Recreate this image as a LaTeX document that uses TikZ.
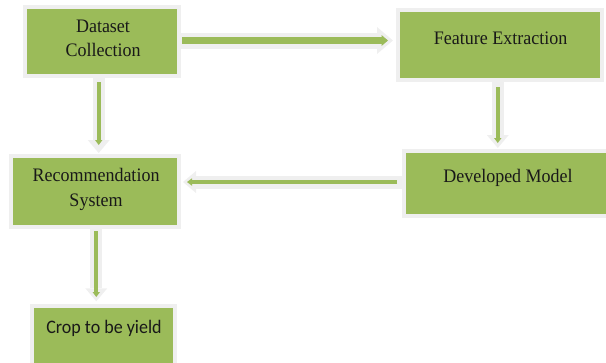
\documentclass[tikz,border=0pt]{standalone}
\usepackage{fontspec}
\setmainfont{Liberation Serif}
\newfontfamily\calib{Carlito}
\usetikzlibrary{arrows.meta}
\definecolor{leaf}{HTML}{9BBB59}
\definecolor{halo}{HTML}{EFEFEF}
\tikzset{
  box/.style={draw=halo, fill=leaf, line width=4pt, inner sep=0pt, outer sep=0pt},
  lbl/.style={anchor=base, align=center, font=\fontsize{18}{23.3}\selectfont, inner sep=0pt, text=black!90, yscale=1.06},
  hhalo/.style={draw=halo, line width=16pt, -{Triangle[length=16pt, width=27pt, line width=0pt]}},
  hleaf/.style={draw=leaf, line width=7pt, -{Triangle[length=6.5pt, width=11pt, line width=0pt]}},
  shalo/.style={draw=halo, line width=12pt, -{Triangle[length=13pt, width=22pt, line width=0pt]}},
  sleaf/.style={draw=leaf, line width=4.3pt, -{Triangle[length=5pt, width=7.5pt, line width=0pt]}},
}
\begin{document}
\begin{tikzpicture}[x=1pt,y=-1pt]
\useasboundingbox (0,0) rectangle (606,362);
% boxes
\node[box, minimum width=154pt, minimum height=69pt] (dc) at (102,41.5) {};
\node[box, minimum width=204pt, minimum height=70pt] (fe) at (500,45) {};
\node[box, minimum width=168pt, minimum height=71pt] (rs) at (95,191.5) {};
\node[box, minimum width=204pt, minimum height=65pt] (dm) at (506,183.5) {};
\node[box, minimum width=143pt, minimum height=64pt] (cr) at (103.5,338) {};
% labels (anchor base = baseline of the last line)
\node[lbl] (dct) at (103,56.7) {Dataset\\Collection};
\node[lbl] (fet) at (500.7,44) {Feature Extraction};
\node[lbl] (dmt) at (508,182.3) {Developed Model};
\node[lbl] (rst) at (96,206) {Recommendation\\System};
\node[lbl, font=\calib\fontsize{18}{22}\selectfont] (crt) at (104,333.7) {Crop to be yield};
% arrow: Dataset Collection -> Feature Extraction
\draw[hhalo, shorten <=0pt, shorten >=5pt] (dc.east |- 0,40.5) -- (fe.west |- 0,40.5);
\draw[hleaf, shorten <=3pt, shorten >=10pt] (dc.east |- 0,40.5) -- (fe.west |- 0,40.5);
% arrow: Developed Model -> Recommendation System
\draw[shalo, line width=13pt, shorten <=0pt, shorten >=4pt] (dm.west |- 0,182) -- (rs.east |- 0,182);
\draw[sleaf, line width=4.5pt, shorten <=7pt, shorten >=8pt] (dm.west |- 0,182) -- (rs.east |- 0,182);
% arrow: Dataset Collection -> Recommendation System
\draw[shalo, shorten <=2pt, shorten >=3pt] (dc.south -| 98.7,0) -- (rs.north -| 98.7,0);
\draw[sleaf, shorten <=6pt, shorten >=11pt] (dc.south -| 98.7,0) -- (rs.north -| 98.7,0);
% arrow: Feature Extraction -> Developed Model
\draw[shalo, shorten <=2pt, shorten >=3pt] (fe.south -| 497.8,0) -- (dm.north -| 497.8,0);
\draw[sleaf, shorten <=7pt, shorten >=8pt] (fe.south -| 497.8,0) -- (dm.north -| 497.8,0);
% arrow: Recommendation System -> Crop to be yield
\draw[shalo, shorten <=2pt, shorten >=4.7pt] (rs.south -| 96.3,0) -- (cr.north -| 96.3,0);
\draw[sleaf, shorten <=4pt, shorten >=9pt] (rs.south -| 96.3,0) -- (cr.north -| 96.3,0);
\end{tikzpicture}
\end{document}
